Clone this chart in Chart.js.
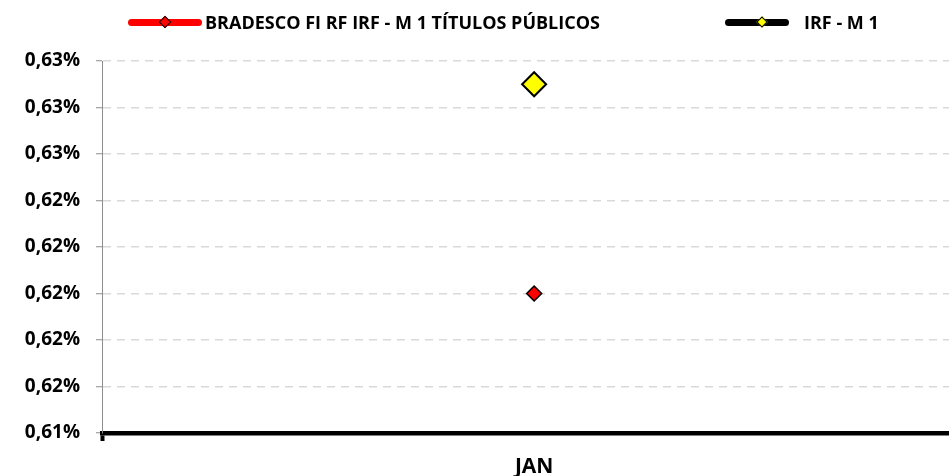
<!DOCTYPE html>
<html>
<head>
<meta charset="utf-8">
<script src="https://cdn.jsdelivr.net/npm/chart.js"></script>
<style>
  body { margin: 0; background: #fff; overflow: hidden; }
  #wrap { position: relative; width: 949px; height: 476px; }
  #legend { position: absolute; left: 0; top: 10px; width: 949px; height: 24px;
            font-family: 'Open Sans', sans-serif; font-weight: 700; font-size: 18px;
            line-height: 24px; color: #000; white-space: nowrap; }
  .item { position: absolute; top: 0; display: flex; align-items: center; }
  .swatch { position: relative; height: 7px; border-radius: 4px; }
  .diamond { position: absolute; left: 50%; top: 50%; width: 7px; height: 7px;
             transform: translate(-50%, -50%) rotate(45deg); border: 1.5px solid #000; }
  .item0 { left: 128px; }
  .item0 .swatch { width: 74px; background: #ff0000; margin-right: 3px; }
  .item0 .diamond { background: #ff0000; }
  .item1 { left: 725px; }
  .item1 .swatch { width: 64px; background: #000; margin-right: 15px; }
  .item1 .diamond { left: 37px; background: #ffff00; border-color: #000; width: 6px; height: 6px; }
</style>
</head>
<body>
<div id="wrap">
  <canvas id="chart" width="949" height="476"></canvas>
  <div id="legend"></div>
</div>
<script>
const categories = ['JAN'];
const seriesNames = ['BRADESCO FI RF IRF - M 1 TÍTULOS PÚBLICOS', 'IRF - M 1'];
const bradesco = [0.620];
const irfM1 = [0.629];
const yTickValues = [0.614, 0.616, 0.618, 0.620, 0.622, 0.624, 0.626, 0.628, 0.630];
const yTickLabels = ['0,61%', '0,62%', '0,62%', '0,62%', '0,62%', '0,62%', '0,63%', '0,63%', '0,63%'];

// legenda em HTML (posição igual ao gráfico original)
const legendEl = document.getElementById('legend');
seriesNames.forEach((name, i) => {
  const item = document.createElement('div');
  item.className = 'item item' + i;
  item.innerHTML = '<span class="swatch"><span class="diamond"></span></span><span class="txt"></span>';
  item.querySelector('.txt').textContent = name;
  legendEl.appendChild(item);
});

// eixo x numérico: cada categoria ocupa o intervalo [i-0.5, i+0.5];
// no original a área do gráfico passa ~17px da borda direita, por isso o max é menor que 0.5
const toPoints = (arr) => arr.map((v, i) => ({ x: i, y: v }));

const ctx = document.getElementById('chart');
new Chart(ctx, {
  type: 'line',
  data: {
    datasets: [
      {
        label: seriesNames[0],
        data: toPoints(bradesco),
        borderColor: '#ff0000',
        borderWidth: 5,
        pointStyle: 'rectRot',
        pointRadius: 7.5,
        pointBackgroundColor: '#ff0000',
        pointBorderColor: '#000',
        pointBorderWidth: 1.5
      },
      {
        label: seriesNames[1],
        data: toPoints(irfM1),
        borderColor: '#000',
        borderWidth: 5,
        pointStyle: 'rectRot',
        pointRadius: 12,
        pointBackgroundColor: '#ffff00',
        pointBorderColor: '#000',
        pointBorderWidth: 2
      }
    ]
  },
  options: {
    responsive: false,
    animation: false,
    layout: { autoPadding: false, padding: { top: 61, left: 0, right: 0, bottom: 0 } },
    plugins: {
      legend: { display: false },
      tooltip: { enabled: false }
    },
    scales: {
      x: {
        type: 'linear',
        min: -0.5,
        max: categories.length - 0.52,
        afterFit: (axis) => { axis.height = 43; },
        afterBuildTicks: (axis) => {
          axis.ticks = [{ value: -0.5 }].concat(categories.map((c, i) => ({ value: i })));
        },
        grid: {
          drawOnChartArea: false,
          tickLength: 8,
          tickColor: (c) => (c.tick && c.tick.value === -0.5 ? '#000' : 'transparent'),
          tickWidth: 4
        },
        border: { color: '#000', width: 4.5 },
        ticks: {
          padding: 13,
          color: '#000',
          font: { family: 'Open Sans', weight: 'bold', size: 21 },
          callback: (value) => (categories[value] !== undefined ? categories[value] : '')
        }
      },
      y: {
        min: 0.614,
        max: 0.630,
        afterFit: (axis) => { axis.width = 102; },
        afterBuildTicks: (axis) => { axis.ticks = yTickValues.map(v => ({ value: v })); },
        grid: {
          color: '#d9d9d9',
          lineWidth: 1.5,
          tickColor: '#8c8c8c',
          tickWidth: 1,
          tickLength: 6
        },
        border: { color: '#8c8c8c', width: 1, dash: [8, 6] },
        ticks: {
          padding: 16,
          color: '#000',
          font: { family: 'Open Sans', weight: 'bold', size: 19 },
          callback: (value, index) => yTickLabels[index]
        }
      }
    }
  }
});
</script>
</body>
</html>
